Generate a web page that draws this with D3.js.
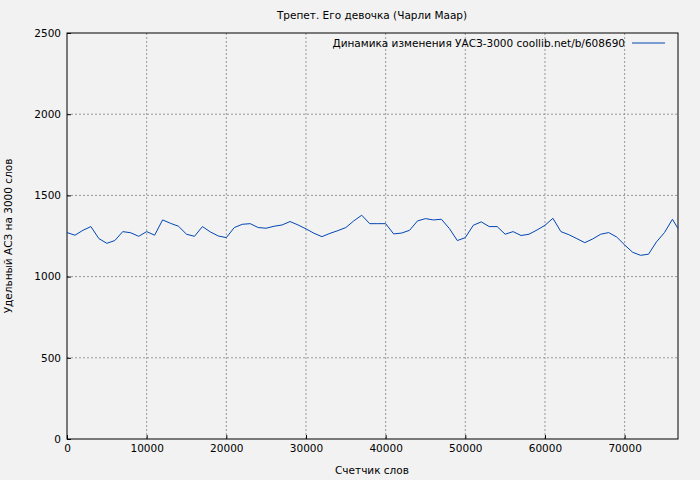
<!DOCTYPE html>
<html>
<head>
<meta charset="utf-8">
<script src="https://cdn.jsdelivr.net/npm/d3@7"></script>
<style>
  body { margin: 0; background: #f2f2f2; }
  text { font-family: "DejaVu Sans", sans-serif; font-size: 10.5px; fill: #000; }
</style>
</head>
<body>
<svg id="chart" width="700" height="480"></svg>
<script>
const words = [0, 1000, 2000, 3000, 4000, 5000, 6000, 7000, 8000, 9000,
  10000, 11000, 12000, 13000, 14000, 15000, 16000, 17000, 18000, 19000,
  20000, 21000, 22000, 23000, 24000, 25000, 26000, 27000, 28000, 29000,
  30000, 31000, 32000, 33000, 34000, 35000, 36000, 37000, 38000, 39000,
  40000, 41000, 42000, 43000, 44000, 45000, 46000, 47000, 48000, 49000,
  50000, 51000, 52000, 53000, 54000, 55000, 56000, 57000, 58000, 59000,
  60000, 61000, 62000, 63000, 64000, 65000, 66000, 67000, 68000, 69000,
  70000, 71000, 72000, 73000, 74000, 75000, 76000, 76700];
const uasz = [1271, 1255, 1285, 1308, 1234, 1205, 1222, 1277, 1270, 1248,
  1277, 1255, 1349, 1328, 1310, 1261, 1248, 1308, 1275, 1250,
  1240, 1302, 1322, 1326, 1302, 1298, 1310, 1318, 1339, 1318,
  1294, 1267, 1246, 1266, 1283, 1302, 1343, 1378, 1326, 1326,
  1326, 1263, 1268, 1285, 1343, 1357, 1349, 1353, 1296, 1222,
  1240, 1316, 1337, 1308, 1308, 1261, 1277, 1253, 1261, 1287,
  1316, 1359, 1277, 1258, 1234, 1209, 1232, 1261, 1271, 1244,
  1195, 1150, 1131, 1138, 1214, 1271, 1353, 1296];
const xTicks = [0, 10000, 20000, 30000, 40000, 50000, 60000, 70000];
const yTicks = [0, 500, 1000, 1500, 2000, 2500];

const title = "Трепет. Его девочка (Чарли Маар)";
const legendLabel = "Динамика изменения УАСЗ-3000 coollib.net/b/608690";

const svg = d3.select("#chart");
const plotLeft = 67, plotRight = 678, plotTop = 33, plotBottom = 439;

const x = d3.scaleLinear().domain([0, 76700]).range([plotLeft, plotRight]);
const y = d3.scaleLinear().domain([0, 2500]).range([plotBottom, plotTop]);

// grid
const grid = svg.append("g").attr("stroke", "#999").attr("stroke-dasharray", "2,2");
xTicks.slice(1).forEach((t) => {
  grid.append("line").attr("x1", x(t)).attr("x2", x(t)).attr("y1", plotTop).attr("y2", plotBottom);
});
yTicks.slice(1, -1).forEach((t) => {
  grid.append("line").attr("x1", plotLeft).attr("x2", plotRight).attr("y1", y(t)).attr("y2", y(t));
});

svg.append("rect")
  .attr("x", plotLeft).attr("y", plotTop)
  .attr("width", plotRight - plotLeft).attr("height", plotBottom - plotTop)
  .attr("fill", "none").attr("stroke", "#000");

svg.append("g")
  .attr("transform", `translate(0,${plotBottom})`)
  .call(d3.axisBottom(x).tickValues(xTicks).tickFormat(d3.format("d")).tickSize(-4).tickPadding(6))
  .call((g) => g.select(".domain").remove())
  .call((g) => g.selectAll("text").style("font-size", "10.5px").style("font-family", "DejaVu Sans"));

svg.append("g")
  .attr("transform", `translate(${plotLeft},0)`)
  .call(d3.axisLeft(y).tickValues(yTicks).tickFormat(d3.format("d")).tickSize(-4).tickPadding(6))
  .call((g) => g.select(".domain").remove())
  .call((g) => g.selectAll("text").style("font-size", "10.5px").style("font-family", "DejaVu Sans"));

// series
svg.append("path")
  .datum(words.map((w, i) => [w, uasz[i]]))
  .attr("fill", "none")
  .attr("stroke", "#0046b4")
  .attr("stroke-width", 1)
  .attr("d", d3.line().x((d) => x(d[0])).y((d) => y(d[1])));

// texts
svg.append("text").attr("x", 372).attr("y", 19).attr("text-anchor", "middle").text(title);
svg.append("text").attr("x", 372).attr("y", 474).attr("text-anchor", "middle").text("Счетчик слов");
svg.append("text")
  .attr("transform", `translate(12,236) rotate(-90)`)
  .attr("text-anchor", "middle")
  .text("Удельный АСЗ на 3000 слов");

svg.append("text").attr("x", 625).attr("y", 47).attr("text-anchor", "end").text(legendLabel);
svg.append("line")
  .attr("x1", 632).attr("x2", 665).attr("y1", 43).attr("y2", 43)
  .attr("stroke", "#0046b4");
</script>
</body>
</html>
